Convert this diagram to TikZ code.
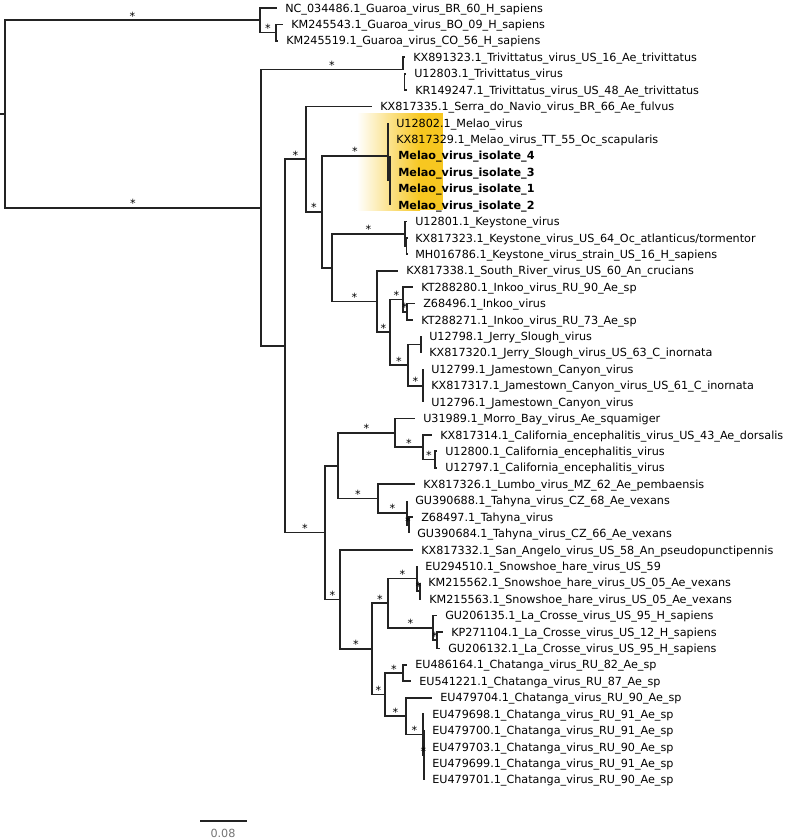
\documentclass[tikz,border=0pt]{standalone}
\usepackage{fontspec}
\setmainfont{DejaVu Sans}
\definecolor{melao}{RGB}{247,199,32}
\definecolor{branchgray}{RGB}{35,35,35}

\begin{document}
\begin{tikzpicture}[x=0.75pt, y=-0.75pt,
  every node/.style={font=\fontsize{8.4}{10}\selectfont},
  branch/.style={draw=branchgray, line width=1.3pt},
  leaf/.style={anchor=base west, inner sep=0pt, xshift=6pt, yshift=-3.1pt},
  supp/.style={anchor=base, inner sep=0pt}]
\useasboundingbox (0,0) rectangle (800,839);

% highlight behind the Melao isolates
\shade[left color=white, right color=melao] (357,113) rectangle (420,210);
\fill[melao] (419.5,113) rectangle (443,210);

% tips and labels
\foreach \i/\tx/\txt in {
  1/277/NC\_034486.1\_Guaroa\_virus\_BR\_60\_H\_sapiens,
  2/283/KM245543.1\_Guaroa\_virus\_BO\_09\_H\_sapiens,
  3/278/KM245519.1\_Guaroa\_virus\_CO\_56\_H\_sapiens,
  4/405/KX891323.1\_Trivittatus\_virus\_US\_16\_Ae\_trivittatus,
  5/406/U12803.1\_Trivittatus\_virus,
  6/407/KR149247.1\_Trivittatus\_virus\_US\_48\_Ae\_trivittatus,
  7/372/KX817335.1\_Serra\_do\_Navio\_virus\_BR\_66\_Ae\_fulvus,
  8/388/U12802.1\_Melao\_virus,
  9/388/KX817329.1\_Melao\_virus\_TT\_55\_Oc\_scapularis,
  10/390/{\bfseries Melao\_virus\_isolate\_4},
  11/390/{\bfseries Melao\_virus\_isolate\_3},
  12/390/{\bfseries Melao\_virus\_isolate\_1},
  13/390/{\bfseries Melao\_virus\_isolate\_2},
  14/407/U12801.1\_Keystone\_virus,
  15/407/{KX817323.1\_Keystone\_virus\_US\_64\_Oc\_atlanticus/tormentor},
  16/407/MH016786.1\_Keystone\_virus\_strain\_US\_16\_H\_sapiens,
  17/398/KX817338.1\_South\_River\_virus\_US\_60\_An\_crucians,
  18/413/KT288280.1\_Inkoo\_virus\_RU\_90\_Ae\_sp,
  19/415/Z68496.1\_Inkoo\_virus,
  20/413/KT288271.1\_Inkoo\_virus\_RU\_73\_Ae\_sp,
  21/421/U12798.1\_Jerry\_Slough\_virus,
  22/421/KX817320.1\_Jerry\_Slough\_virus\_US\_63\_C\_inornata,
  23/423/U12799.1\_Jamestown\_Canyon\_virus,
  24/423/KX817317.1\_Jamestown\_Canyon\_virus\_US\_61\_C\_inornata,
  25/423/U12796.1\_Jamestown\_Canyon\_virus,
  26/415/U31989.1\_Morro\_Bay\_virus\_Ae\_squamiger,
  27/432/KX817314.1\_California\_encephalitis\_virus\_US\_43\_Ae\_dorsalis,
  28/437/U12800.1\_California\_encephalitis\_virus,
  29/437/U12797.1\_California\_encephalitis\_virus,
  30/415/KX817326.1\_Lumbo\_virus\_MZ\_62\_Ae\_pembaensis,
  31/407/GU390688.1\_Tahyna\_virus\_CZ\_68\_Ae\_vexans,
  32/413/Z68497.1\_Tahyna\_virus,
  33/409/GU390684.1\_Tahyna\_virus\_CZ\_66\_Ae\_vexans,
  34/413/KX817332.1\_San\_Angelo\_virus\_US\_58\_An\_pseudopunctipennis,
  35/417/EU294510.1\_Snowshoe\_hare\_virus\_US\_59,
  36/420/KM215562.1\_Snowshoe\_hare\_virus\_US\_05\_Ae\_vexans,
  37/421/KM215563.1\_Snowshoe\_hare\_virus\_US\_05\_Ae\_vexans,
  38/437/GU206135.1\_La\_Crosse\_virus\_US\_95\_H\_sapiens,
  39/443/KP271104.1\_La\_Crosse\_virus\_US\_12\_H\_sapiens,
  40/440/GU206132.1\_La\_Crosse\_virus\_US\_95\_H\_sapiens,
  41/407/EU486164.1\_Chatanga\_virus\_RU\_82\_Ae\_sp,
  42/411/EU541221.1\_Chatanga\_virus\_RU\_87\_Ae\_sp,
  43/432/EU479704.1\_Chatanga\_virus\_RU\_90\_Ae\_sp,
  44/424/EU479698.1\_Chatanga\_virus\_RU\_91\_Ae\_sp,
  45/424/EU479700.1\_Chatanga\_virus\_RU\_91\_Ae\_sp,
  46/424/EU479703.1\_Chatanga\_virus\_RU\_90\_Ae\_sp,
  47/424/EU479699.1\_Chatanga\_virus\_RU\_91\_Ae\_sp,
  48/424/EU479701.1\_Chatanga\_virus\_RU\_90\_Ae\_sp}
{
  \coordinate (l\i) at (\tx, {8+16.42*(\i-1)});
  \node[leaf] (t\i) at (l\i) {\txt};
}

% internal nodes
\foreach \n/\x/\y in {root/5/114, Gu/260/20.3, Gu2/276/32.6, A/261/207.7,
  Tr/403/69.6, Tr2/404.5/81.9, B/285/345.8, D/306/159.1, E/322/211.7,
  Me/388/155.8, Me1/388/131.1, Me2/390/180.4, F/332/267.7, Ks/405/233.8,
  Ks2/406.5/246.1, G/377/301.5, H/390/332.3, I/403/299.4, I2/407/311.8,
  J/408/365.1, Js/421/344.6, Jc/423/385.7, K/325/532.5, Lx/338/465.7,
  Mo/395/432.9, Ca/423/447.2, Ca2/435/459.5, Lu/378/498.5, T/407/512.9,
  T2/409/525.2, N/340/599.4, P/372/648.9, Q/388/603.2, S/417/578.6,
  S2/420/590.9, LC/433/627.8, LC2/437/640.1, R/385/694.5, Ch1/403/673,
  Ch2/406/716.1, Ch3/423/734.5, Ch4/424/755.1}
  \coordinate (\n) at (\x,\y);
\coordinate (base) at (0,114);

% branches
\draw[branch] (base) -- (root);
\foreach \p/\c in {Gu/l1, Gu2/l2, Gu2/l3, Tr/l4, Tr2/l5, Tr2/l6, A/B, D/l7,
  E/F, Me/Me1, Me/Me2, Me1/l8, Me1/l9, Me2/l10, Me2/l11, Me2/l12, Me2/l13,
  Ks/l14, Ks/Ks2, Ks2/l15, Ks2/l16, G/l17, I/l18, I2/l19, I2/l20, J/Js,
  Js/l21, Js/l22, Jc/l23, Jc/l24, Jc/l25, K/Lx, Mo/l26, Ca/l27, Ca2/l28,
  Ca2/l29, Lu/l30, T/l31, T2/l32, T2/l33, N/l34, S/l35, S2/l36, S2/l37,
  LC/l38, LC2/l39, LC2/l40, Ch1/l41, Ch1/l42, Ch2/l43, Ch3/l44, Ch4/l45,
  Ch4/l46, Ch4/l47, Ch4/l48}
  \draw[branch] (\p) |- (\c);

% branches with support
\foreach \p/\c in {root/Gu, root/A, Gu/Gu2, A/Tr, B/D, D/E, E/Me, F/Ks,
  F/G, G/H, H/I, I/I2, H/J, J/Jc, Lx/Mo, Mo/Ca, Ca/Ca2, Lx/Lu, Lu/T, T/T2,
  B/K, K/N, N/P, P/Q, P/R, Q/S, S/S2, Q/LC, LC/LC2, R/Ch1, R/Ch2, Ch2/Ch3,
  Ch3/Ch4}
  \draw[branch] (\p) |- (\c) node[supp, pos=0.75] (s-\c) {*};

% scale bar
\coordinate (sb0) at (200,821);
\coordinate (sb1) at (247,821);
\draw[branch] (sb0) -- (sb1);
\node[text=gray!90!black] (sblabel) at (223,833) {0.08};
\end{tikzpicture}
\end{document}
